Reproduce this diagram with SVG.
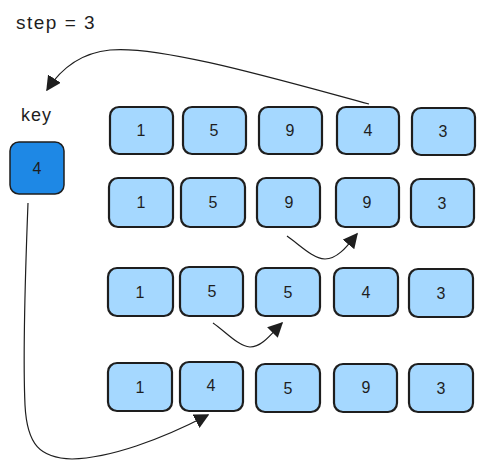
<svg xmlns="http://www.w3.org/2000/svg" width="485" height="469" viewBox="0 0 485 469">
<defs>
<style>
.b{fill:#a5d8ff;stroke:#1e1e1e;stroke-width:2.2}
.k{fill:#1e88e5;stroke:#1e1e1e;stroke-width:1.5}
.t{font-family:"Liberation Sans",Arial,sans-serif;font-size:16px;fill:#1e1e1e;text-anchor:middle;dominant-baseline:central}
.l{font-family:"Liberation Sans",Arial,sans-serif;font-size:19px;fill:#1e1e1e;letter-spacing:1.5px}
.c{fill:none;stroke:#1e1e1e;stroke-width:1.2}
</style>
<marker id="ah" viewBox="0 0 10 10" refX="9" refY="5" markerWidth="15" markerHeight="15" markerUnits="userSpaceOnUse" orient="auto">
<path d="M0,0 L10,5 L0,10 z" fill="#1e1e1e"/>
</marker>
</defs>
<rect width="485" height="469" fill="#ffffff"/>
<text class="l" x="16" y="29">step = 3</text>
<text class="l" x="21" y="121" style="font-size:18px;letter-spacing:1px">key</text>
<g id="key"><rect class="k" x="10" y="142" width="54" height="52" rx="9"/><text class="t" x="37" y="168">4</text></g>
<g id="r1">
<g id="r1c1"><rect class="b" x="110" y="107" width="63" height="47" rx="9"/><text class="t" x="141" y="130">1</text></g>
<g id="r1c2"><rect class="b" x="183" y="107" width="63" height="47" rx="9"/><text class="t" x="214" y="130">5</text></g>
<g id="r1c3"><rect class="b" x="259" y="107" width="63" height="47" rx="9"/><text class="t" x="290" y="130">9</text></g>
<g id="r1c4"><rect class="b" x="337" y="107" width="62" height="47" rx="9"/><text class="t" x="368" y="130">4</text></g>
<g id="r1c5"><rect class="b" x="412" y="108" width="63" height="47" rx="9"/><text class="t" x="443" y="131">3</text></g>
</g>
<g id="r2">
<g id="r2c1"><rect class="b" x="109" y="178" width="64" height="49" rx="9"/><text class="t" x="141" y="202">1</text></g>
<g id="r2c2"><rect class="b" x="181" y="178" width="64" height="49" rx="9"/><text class="t" x="213" y="202">5</text></g>
<g id="r2c3"><rect class="b" x="257" y="178" width="63" height="49" rx="9"/><text class="t" x="289" y="202">9</text></g>
<g id="r2c4"><rect class="b" x="336" y="178" width="63" height="49" rx="9"/><text class="t" x="367" y="202">9</text></g>
<g id="r2c5"><rect class="b" x="411" y="179" width="63" height="48" rx="9"/><text class="t" x="442" y="203">3</text></g>
</g>
<g id="r3">
<g id="r3c1"><rect class="b" x="108" y="268" width="65" height="48" rx="9"/><text class="t" x="140" y="292">1</text></g>
<g id="r3c2"><rect class="b" x="180" y="267" width="63" height="49" rx="9"/><text class="t" x="212" y="291">5</text></g>
<g id="r3c3"><rect class="b" x="256" y="268" width="64" height="48" rx="9"/><text class="t" x="288" y="292">5</text></g>
<g id="r3c4"><rect class="b" x="334" y="268" width="64" height="48" rx="9"/><text class="t" x="366" y="292">4</text></g>
<g id="r3c5"><rect class="b" x="409" y="269" width="64" height="48" rx="9"/><text class="t" x="441" y="293">3</text></g>
</g>
<g id="r4">
<g id="r4c1"><rect class="b" x="108" y="363" width="64" height="48" rx="9"/><text class="t" x="140" y="387">1</text></g>
<g id="r4c2"><rect class="b" x="180" y="362" width="63" height="49" rx="9"/><text class="t" x="211" y="385">4</text></g>
<g id="r4c3"><rect class="b" x="256" y="364" width="64" height="48" rx="9"/><text class="t" x="288" y="388">5</text></g>
<g id="r4c4"><rect class="b" x="334" y="364" width="63" height="48" rx="9"/><text class="t" x="366" y="387">9</text></g>
<g id="r4c5"><rect class="b" x="409" y="364" width="64" height="48" rx="9"/><text class="t" x="441" y="388">3</text></g>
</g>
<g id="connectors">
<path class="c" d="M369,104 C280,80 160,45 110,50 C80,53 60,70 47,90" marker-end="url(#ah)"/>
<path class="c" d="M287,236 C300,245 312,258 325,259 C338,259 348,245 357,234" marker-end="url(#ah)"/>
<path class="c" d="M213,323 C226,332 238,346 250,347 C262,347 272,333 282,323" marker-end="url(#ah)"/>
<path class="c" d="M28,203 C25,280 23,360 25,405 C27,445 40,458 72,459 C110,458 160,440 208,415" marker-end="url(#ah)"/>
</g>
</svg>
